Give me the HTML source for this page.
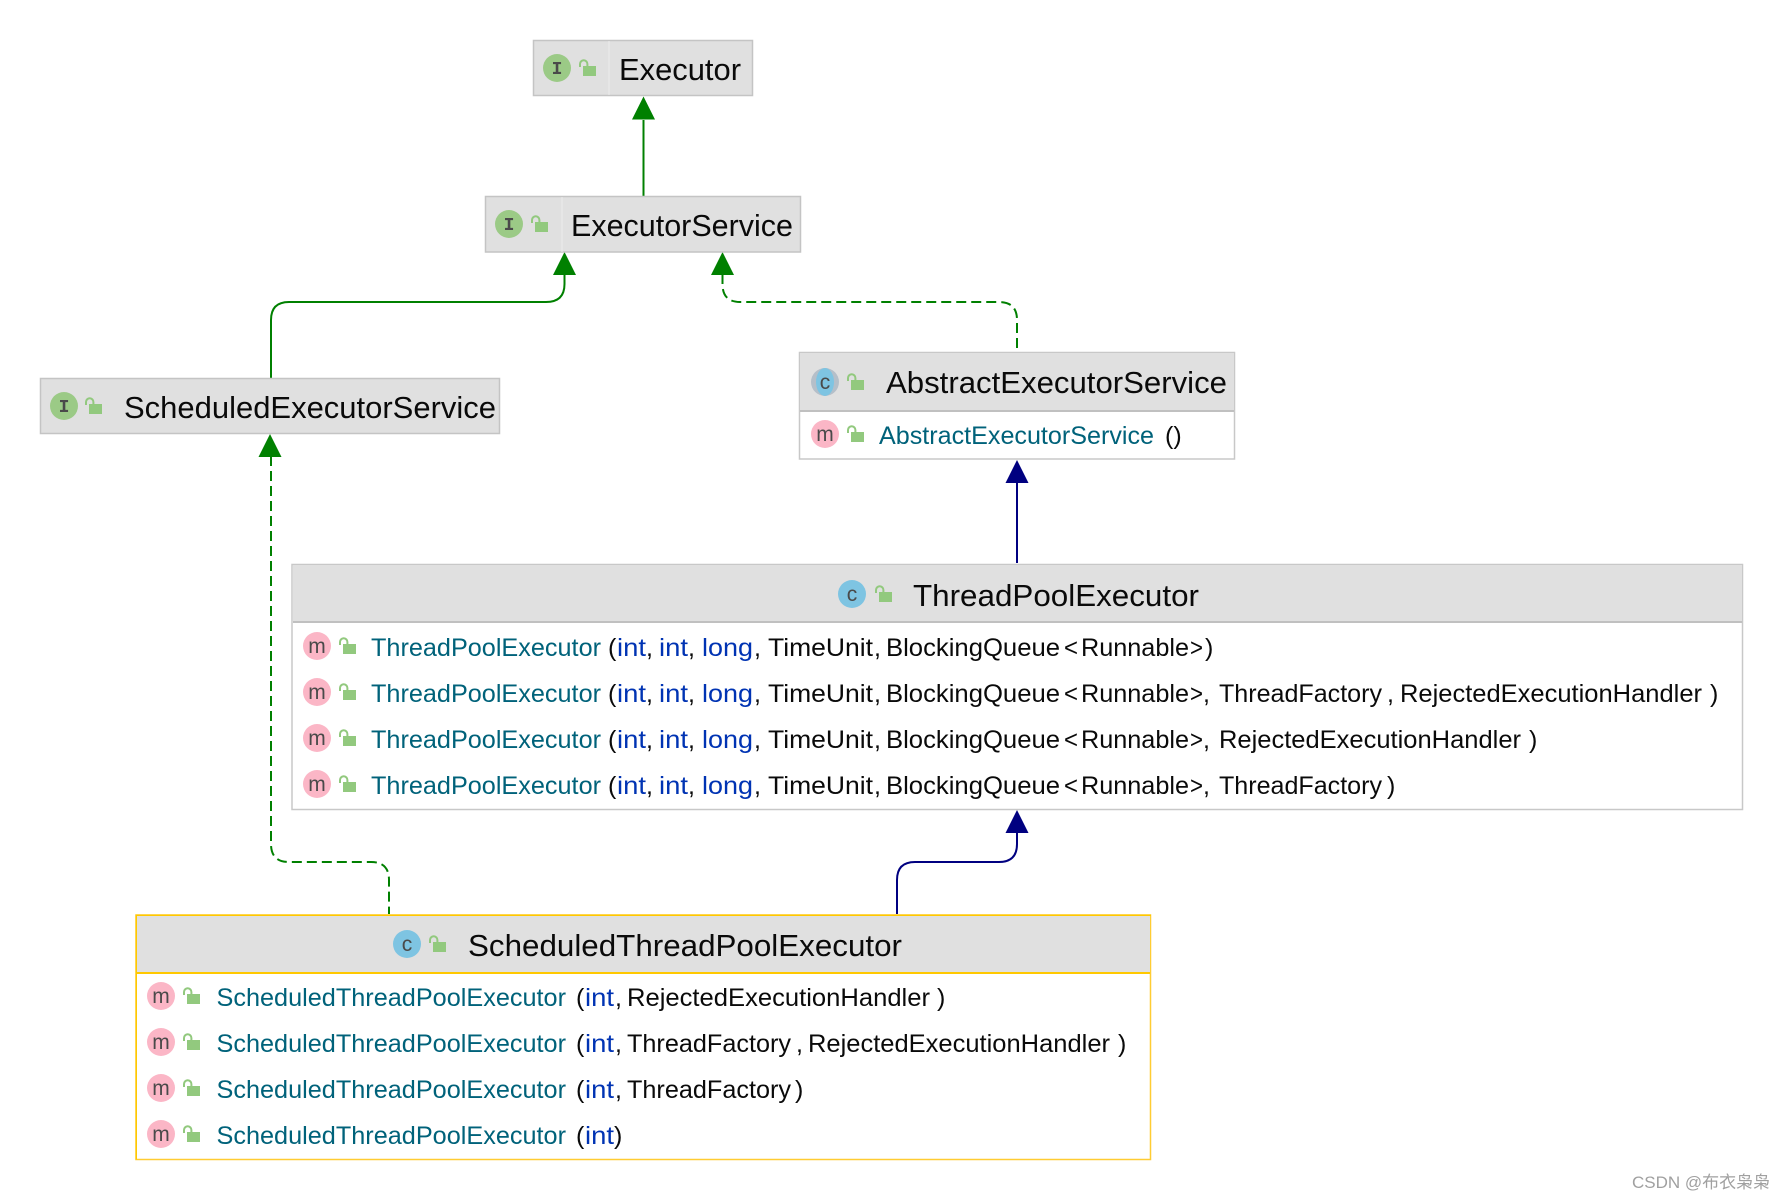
<!DOCTYPE html>
<html><head><meta charset="utf-8"><style>
html,body{margin:0;padding:0;background:#fff}
svg{display:block}
text{font-family:"Liberation Sans","Noto Sans CJK SC",sans-serif;fill:#0a0a0a}
.t{font-size:31px}
.r{font-size:25px}
.n{fill:#00627a}
.k{fill:#0033b3}
.i{font-size:21px;fill:#4a4a4a;text-anchor:middle}
.s{font-family:"Liberation Mono",monospace;font-size:18px;font-weight:bold;fill:#4a4a4a;text-anchor:middle}
</style></head><body>
<svg width="1784" height="1200" viewBox="0 0 1784 1200" xmlns="http://www.w3.org/2000/svg">
<defs>
<g id="lock"><rect x="4" y="-2" width="13" height="10" fill="#92c97e"/><path d="M1 -1V-4A3.7 3.7 0 0 1 8.400 -4V-2" fill="none" stroke="#92c97e" stroke-width="2"/></g>
</defs>
<rect width="1784" height="1200" fill="#fff"/>

<!-- connectors -->
<g fill="none" stroke-width="2">
<path d="M643.500 120V196" stroke="#008000"/>
<path d="M564.500 274V284Q564.500 302 546 302H289Q271 302 271 320V379" stroke="#008000"/>
<path d="M722.500 274V284Q722.500 302 740 302H999Q1017 302 1017 320V352" stroke="#008000" stroke-dasharray="10 5"/>
<path d="M271 456V844Q271 862 289 862H371Q389 862 389 880V914" stroke="#008000" stroke-dasharray="10 5"/>
<path d="M1017 483V563" stroke="#000080"/>
<path d="M1017 833V844Q1017 862 999 862H915Q897 862 897 880V914" stroke="#000080"/>
</g>
<g fill="#008000">
<polygon points="643.500,96.500 655,119.500 632,119.500"/>
<polygon points="564.500,252 576,275 553,275"/>
<polygon points="722.500,252 734,275 711,275"/>
<polygon points="270,434 281.500,457 258.500,457"/>
</g>
<g fill="#000080">
<polygon points="1017,460 1028.500,483 1005.500,483"/>
<polygon points="1017,810 1028.500,833 1005.500,833"/>
</g>

<!-- Executor -->
<rect x="533.500" y="40.500" width="219" height="55" fill="#e0e0e0" stroke="#c4c4c4" stroke-width="1.500"/>
<line x1="609" y1="41" x2="609" y2="95" stroke="#ececec"/>
<circle cx="557" cy="68" r="14" fill="#9bca86"/><text class="s" x="557" y="74">I</text>
<use href="#lock" x="579" y="68"/>
<text class="t" x="619" y="80" textLength="122" lengthAdjust="spacingAndGlyphs">Executor</text>

<!-- ExecutorService -->
<rect x="485.500" y="196.500" width="315" height="55.500" fill="#e0e0e0" stroke="#c4c4c4" stroke-width="1.500"/>
<line x1="562" y1="197" x2="562" y2="252" stroke="#ececec"/>
<circle cx="509" cy="224" r="14" fill="#9bca86"/><text class="s" x="509" y="230">I</text>
<use href="#lock" x="531" y="224"/>
<text class="t" x="571" y="236" textLength="222" lengthAdjust="spacingAndGlyphs">ExecutorService</text>

<!-- ScheduledExecutorService -->
<rect x="40.500" y="378.500" width="459" height="55" fill="#e0e0e0" stroke="#c4c4c4" stroke-width="1.500"/>
<circle cx="64" cy="406" r="14" fill="#9bca86"/><text class="s" x="64" y="412">I</text>
<use href="#lock" x="85" y="406"/>
<text class="t" x="124" y="418" textLength="372" lengthAdjust="spacingAndGlyphs">ScheduledExecutorService</text>

<!-- AbstractExecutorService -->
<rect x="799.500" y="352.500" width="435" height="106.500" fill="#fff" stroke="#c8c8c8" stroke-width="1.500"/>
<rect x="800" y="353" width="434" height="58" fill="#e0e0e0"/>
<rect x="800" y="410" width="434" height="2" fill="#c0c0c0"/>
<circle cx="825" cy="382" r="14" fill="#b5bfc9"/><ellipse cx="825" cy="382" rx="9" ry="14" fill="#7ec4e2"/><text class="i" x="825" y="389">c</text>
<use href="#lock" x="847" y="382"/>
<text class="t" x="886" y="393" textLength="341" lengthAdjust="spacingAndGlyphs">AbstractExecutorService</text>
<circle cx="825" cy="434" r="14" fill="#fbb6c6"/><text class="i" x="825" y="441">m</text>
<use href="#lock" x="847" y="434"/>
<text class="r n" x="879" y="444" textLength="275" lengthAdjust="spacingAndGlyphs">AbstractExecutorService</text>
<text class="r" x="1165" y="444">()</text>

<!-- ThreadPoolExecutor -->
<rect x="292" y="564.500" width="1450.500" height="245" fill="#fff" stroke="#c8c8c8" stroke-width="1.500"/>
<rect x="293" y="565" width="1449" height="57" fill="#e0e0e0"/>
<rect x="293" y="621" width="1449" height="2" fill="#c0c0c0"/>
<circle cx="852" cy="594" r="14" fill="#7ec4e2"/><text class="i" x="852" y="601">c</text>
<use href="#lock" x="875" y="594"/>
<text class="t" x="913" y="606" textLength="286" lengthAdjust="spacingAndGlyphs">ThreadPoolExecutor</text>

<g id="tp1">
<circle cx="317" cy="646" r="14" fill="#fbb6c6"/><text class="i" x="317" y="653">m</text>
<use href="#lock" x="339" y="646"/>
<text class="r n" x="371" y="656" textLength="230" lengthAdjust="spacingAndGlyphs">ThreadPoolExecutor</text>
<text class="r" x="608" y="656">(</text>
<text class="r k" x="617" y="656" textLength="29" lengthAdjust="spacingAndGlyphs">int</text><text class="r" x="646" y="656">,</text>
<text class="r k" x="659" y="656" textLength="29" lengthAdjust="spacingAndGlyphs">int</text><text class="r" x="688" y="656">,</text>
<text class="r k" x="702" y="656" textLength="51" lengthAdjust="spacingAndGlyphs">long</text><text class="r" x="754" y="656">,</text>
<text class="r" x="768" y="656" textLength="105" lengthAdjust="spacingAndGlyphs">TimeUnit</text><text class="r" x="874" y="656">,</text>
<text class="r" x="886" y="656" textLength="174" lengthAdjust="spacingAndGlyphs">BlockingQueue</text>
<text class="r" x="1064" y="656" textLength="14" lengthAdjust="spacingAndGlyphs">&lt;</text>
<text class="r" x="1081" y="656" textLength="108" lengthAdjust="spacingAndGlyphs">Runnable</text>
<text class="r" x="1190" y="656" textLength="13" lengthAdjust="spacingAndGlyphs">&gt;</text>
</g>
<text class="r" x="1205" y="656">)</text>

<use href="#tp1" y="46"/>
<text class="r" x="1203" y="702">,</text>
<text class="r" x="1219" y="702" textLength="163" lengthAdjust="spacingAndGlyphs">ThreadFactory</text><text class="r" x="1387" y="702">,</text>
<text class="r" x="1400" y="702" textLength="302" lengthAdjust="spacingAndGlyphs">RejectedExecutionHandler</text>
<text class="r" x="1710" y="702">)</text>

<use href="#tp1" y="92"/>
<text class="r" x="1203" y="748">,</text>
<text class="r" x="1219" y="748" textLength="302" lengthAdjust="spacingAndGlyphs">RejectedExecutionHandler</text>
<text class="r" x="1529" y="748">)</text>

<use href="#tp1" y="138"/>
<text class="r" x="1203" y="794">,</text>
<text class="r" x="1219" y="794" textLength="163" lengthAdjust="spacingAndGlyphs">ThreadFactory</text>
<text class="r" x="1387" y="794">)</text>

<!-- ScheduledThreadPoolExecutor -->
<rect x="136" y="915" width="1014.500" height="244.500" fill="#fff" stroke="#ffcc33" stroke-width="1.500"/>
<rect x="137" y="916" width="1013" height="57" fill="#e0e0e0"/>
<rect x="137" y="972" width="1013" height="2" fill="#ffc800"/>
<rect x="136" y="914.500" width="1015" height="1.500" fill="#ffc800"/>
<rect x="135.500" y="914.500" width="1.500" height="245" fill="#ffc800"/>
<circle cx="407" cy="944" r="14" fill="#7ec4e2"/><text class="i" x="407" y="951">c</text>
<use href="#lock" x="429" y="944"/>
<text class="t" x="468" y="956" textLength="434" lengthAdjust="spacingAndGlyphs">ScheduledThreadPoolExecutor</text>

<g id="sp1">
<circle cx="161" cy="996" r="14" fill="#fbb6c6"/><text class="i" x="161" y="1003">m</text>
<use href="#lock" x="183" y="996"/>
<text class="r n" x="216.500" y="1006" textLength="349.500" lengthAdjust="spacingAndGlyphs">ScheduledThreadPoolExecutor</text>
<text class="r" x="576" y="1006">(</text>
<text class="r k" x="585" y="1006" textLength="29" lengthAdjust="spacingAndGlyphs">int</text>
</g>
<text class="r" x="615" y="1006">,</text>
<text class="r" x="627" y="1006" textLength="303" lengthAdjust="spacingAndGlyphs">RejectedExecutionHandler</text>
<text class="r" x="937" y="1006">)</text>

<use href="#sp1" y="46"/>
<text class="r" x="615" y="1052">,</text>
<text class="r" x="627" y="1052" textLength="164" lengthAdjust="spacingAndGlyphs">ThreadFactory</text><text class="r" x="796" y="1052">,</text>
<text class="r" x="808" y="1052" textLength="302" lengthAdjust="spacingAndGlyphs">RejectedExecutionHandler</text>
<text class="r" x="1118" y="1052">)</text>

<use href="#sp1" y="92"/>
<text class="r" x="615" y="1098">,</text>
<text class="r" x="627" y="1098" textLength="164" lengthAdjust="spacingAndGlyphs">ThreadFactory</text>
<text class="r" x="795" y="1098">)</text>

<use href="#sp1" y="138"/>
<text class="r" x="614" y="1144">)</text>

<!-- watermark -->
<text x="1632" y="1188" font-size="17" style="fill:#a0a0a0">CSDN @布衣枭枭</text>
</svg>
</body></html>
